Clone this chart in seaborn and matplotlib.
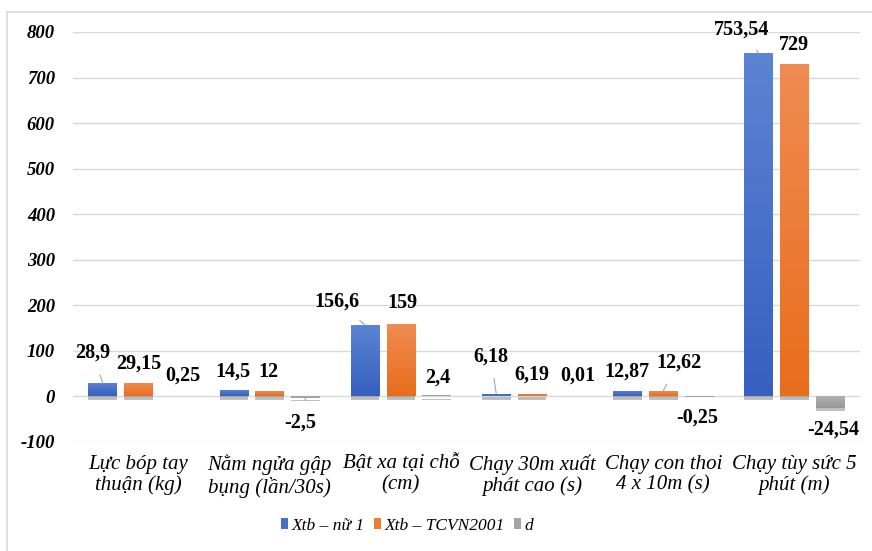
import numpy as np
import pandas as pd
import matplotlib
matplotlib.use("Agg")
import matplotlib.pyplot as plt
import matplotlib.patheffects as pe
from matplotlib.patches import Patch
from matplotlib.lines import Line2D
import seaborn as sns

# ---- data ----
categories = [
    "Lực bóp tay\nthuận (kg)",
    "Nằm ngửa gập\nbụng (lần/30s)",
    "Bật xa tại chỗ\n(cm)",
    "Chạy 30m xuất\nphát cao (s)",
    "Chạy con thoi\n4 x 10m (s)",
    "Chạy tùy sức 5\nphút (m)",
]
series_names = ["Xtb – nữ 1", "Xtb – TCVN2001", "d"]
xtb_nu1 = [28.9, 14.5, 156.6, 6.18, 12.87, 753.54]
xtb_tcvn = [29.15, 12, 159, 6.19, 12.62, 729]
d_values = [0.25, -2.5, 2.4, 0.01, -0.25, -24.54]
y_ticks = [-100, 0, 100, 200, 300, 400, 500, 600, 700, 800]

# label offsets (points) from each bar end, per series then per category,
# and whether a leader line joins label and bar
label_offsets = {
    0: [(-7, 22), (-1, 13), (-20, 17), (-4, 27), (0, 14), (-12, 17)],
    1: [(0, 14), (-1, 14), (1, 15), (0, 14), (11, 20), (0, 14)],
    2: [(6, 15), (-4, -18), (1, 13), (7, 15), (-1, -15), (2, -16)],
}
leaders = {
    0: [True, False, True, True, False, True],
    1: [False, False, False, False, True, False],
    2: [False, True, False, False, False, False],
}

colors_top = ["#5c84d3", "#f08b52", "#b0b0b0"]
colors_bot = ["#3560bf", "#e86e1c", "#999999"]
colors_solid = ["#4472c4", "#ed7d31", "#a5a5a5"]

df = pd.DataFrame({
    "category": categories * 3,
    "series": sum([[s] * len(categories) for s in series_names], []),
    "value": xtb_nu1 + xtb_tcvn + d_values,
})

serif = "Liberation Serif"
plt.rcParams["font.family"] = [serif, "DejaVu Serif"]

fig = plt.figure(figsize=(8.72, 5.51), dpi=100)
ax = fig.add_axes([73 / 872, 1 - 442 / 551, (860 - 73) / 872, (442 - 32) / 551])

sns.barplot(data=df, x="category", y="value", hue="series",
            hue_order=series_names, order=categories,
            palette=colors_solid, width=0.82, gap=0.2, ax=ax,
            legend=False, saturation=1, err_kws={"linewidth": 0})

ax.set_ylim(-100, 800)
ax.set_xlim(-0.5, len(categories) - 0.5)
ax.set_yticks(y_ticks)
ax.set_yticklabels([str(t) for t in y_ticks], fontsize=13.5,
                   fontweight="bold", fontstyle="italic")
ax.set_xticks(range(len(categories)))
ax.set_xticklabels(categories, fontsize=15, fontstyle="italic",
                   linespacing=1.1)
ax.tick_params(axis="both", length=0)
ax.tick_params(axis="y", pad=13)
ax.tick_params(axis="x", pad=9)
ax.set_xlabel("")
ax.set_ylabel("")
for sp in ax.spines.values():
    sp.set_visible(False)
ax.grid(axis="y", color="#d9d9d9", linewidth=1)
ax.set_axisbelow(True)

# vertical gradient fill + soft shadow for each bar
grad = np.linspace(0, 1, 64).reshape(-1, 1)
for si, cont in enumerate(ax.containers):
    cmap = matplotlib.colors.LinearSegmentedColormap.from_list(
        "g%d" % si, [colors_bot[si], colors_top[si]])
    for bi, bar in enumerate(cont):
        x0, w = bar.get_x(), bar.get_width()
        y0, h = bar.get_y(), bar.get_height()
        ylo, yhi = min(y0, y0 + h), max(y0, y0 + h)
        bar.set_path_effects([pe.SimplePatchShadow(offset=(0, -2.5),
                                                   shadow_rgbFace="#606060",
                                                   alpha=0.4),
                              pe.Normal()])
        img = ax.imshow(grad, cmap=cmap, origin="lower", aspect="auto",
                        extent=(x0, x0 + w, ylo, yhi),
                        zorder=bar.get_zorder() + 0.1,
                        interpolation="bilinear")
        img.set_clip_path(bar)

        val = cont.datavalues[bi]
        dx, dy = label_offsets[si][bi]
        cx = x0 + w / 2
        props = None
        if leaders[si][bi]:
            props = dict(arrowstyle="-", color="#a6a6a6", lw=0.8,
                         shrinkA=7, shrinkB=0)
        ax.annotate(f"{val:g}".replace(".", ","), xy=(cx, val),
                    xytext=(dx, dy), textcoords="offset points",
                    ha="center", va="center", fontsize=14.5,
                    fontweight="bold", arrowprops=props, zorder=5)

ax.set_xlim(-0.5, len(categories) - 0.5)
ax.set_ylim(-100, 800)

handles = [Patch(facecolor=c, edgecolor="none") for c in colors_solid]
fig.legend(handles, series_names, loc="center",
           bbox_to_anchor=(407 / 872, 1 - 526 / 551), ncol=3, frameon=False,
           prop={"family": serif, "style": "italic", "size": 12.5},
           handlelength=0.4, handleheight=0.6, handletextpad=0.2,
           columnspacing=0.55)

# outer chart frame
fig.add_artist(Line2D([7 / 872, 7 / 872], [0, 1 - 12 / 551],
                      transform=fig.transFigure, color="#d9d9d9", lw=1.2))
fig.add_artist(Line2D([7 / 872, 1], [1 - 12 / 551, 1 - 12 / 551],
                      transform=fig.transFigure, color="#d9d9d9", lw=1.2))

fig.savefig("out.png", dpi=100, facecolor="white")
